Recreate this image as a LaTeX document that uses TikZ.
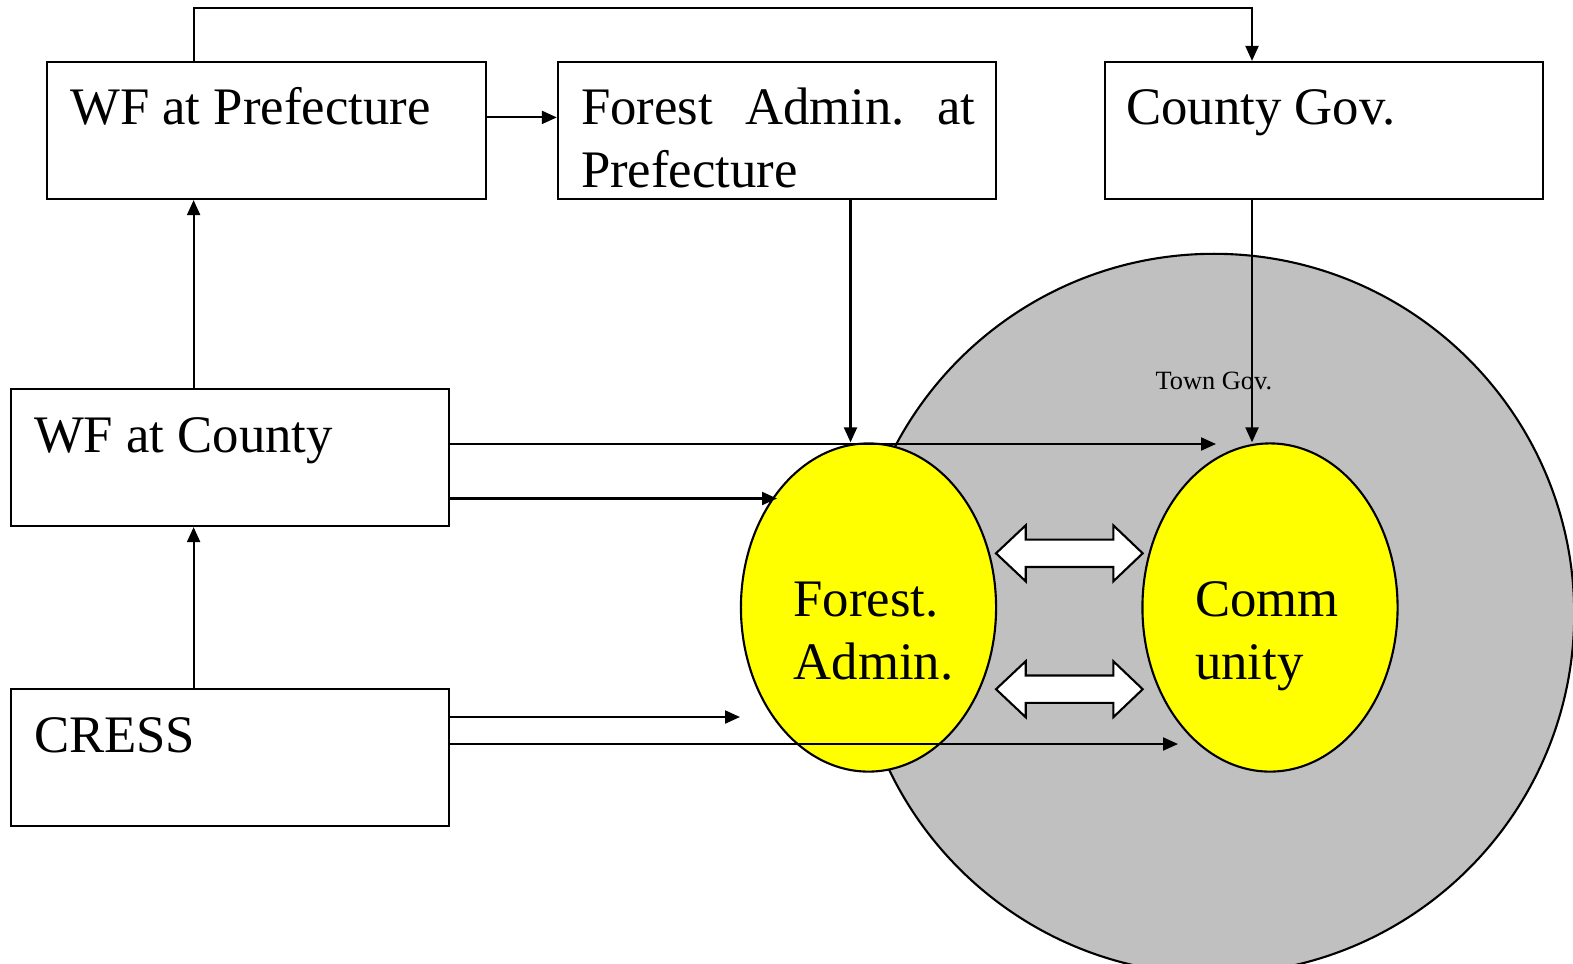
\documentclass[tikz,border=0pt]{standalone}
\usepackage{fontspec}
\setmainfont{Liberation Serif}
\usetikzlibrary{arrows.meta,shapes.geometric}
\definecolor{towngray}{RGB}{192,192,192}
\definecolor{ovalyellow}{RGB}{255,255,0}
\frenchspacing

\begin{document}
\begin{tikzpicture}[x=0.01cm,y=-0.01cm,>={Triangle[length=0.15cm,width=0.13cm]},
                    line width=0.6pt]
  \tikzstyle{box}=[rectangle,draw=black,fill=white,minimum width=4.38cm,minimum height=1.37cm]
  \tikzstyle{oval}=[ellipse,draw=black,fill=ovalyellow,minimum width=2.55cm,minimum height=3.28cm,inner sep=0pt]
  \tikzstyle{big}=[inner sep=0pt,anchor=base west,align=left,font=\fontsize{15}{17.9}\selectfont]

  \clip (0,0) rectangle (1573,963);

  \node[circle,draw=black,fill=towngray,minimum size=7.2cm,inner sep=0pt] (town) at (1214,614) {};
  \node[inner sep=0pt,anchor=base west,font=\fontsize{7.5}{9}\selectfont] (townt) at (1154.5,389.5) {Town Gov.};

  \node[box] (pref)  at (266.5,130.5) {};
  \node[box] (fap)   at (777,130.5)   {};
  \node[box] (cgov)  at (1324,130.5)  {};
  \node[box] (wfc)   at (230,457.5)   {};
  \node[box] (cress) at (230,757.5)   {};

  \node[oval] (fa)  at (868.5,607.5) {};
  \node[oval] (com) at (1270,607.5)  {};

  \node[big] (preft)  at (69.2,124.5) {WF at Prefecture};
  \node[big,text width=3.94cm,align=justify] (fapt) at (580,124.5) {Forest Admin. at Prefecture};
  \node[big] (cgovt)  at (1125,124.5) {County Gov.};
  \node[big] (wfct)   at (33,452)     {WF at County};
  \node[big] (cresst) at (33,752)     {CRESS};
  \node[big] (fat)    at (792.5,679)  {Forest.\\Admin.};
  \node[big] (comt)   at (1194,679)   {Comm\\unity};

  % two-way arrows between forest admin and community
  \foreach \y in {553.3,689.2}
    \filldraw[fill=white] (996,\y) -- ++(29.7,-28) -- ++(0,14.3) -- ++(87.6,0) -- ++(0,-14.3)
      -- ++(29.4,28) -- ++(-29.4,28) -- ++(0,-14.3) -- ++(-87.6,0) -- ++(0,14.3) -- cycle;

  \coordinate (colA) at (193.6,0);
  \coordinate (colB) at (850.5,0);
  \coordinate (colC) at (1252,0);
  \coordinate (roof) at (0,8.4);
  \coordinate (tipA) at (1216,444);
  \coordinate (tipB) at (777,498.5);
  \coordinate (tipC) at (740,717);
  \coordinate (tipD) at (1178,744);

  \draw[->] (colA |- pref.north) -- (colA |- roof) -| (colC |- cgov.north);
  \draw[->] (pref.east |- 0,117.4) -- (fap.west |- 0,117.4);
  \draw[->] (colB |- fap.south) -- (colB |- fa.north);
  \draw[->] (colC |- cgov.south) -- (colC |- com.north);
  \draw[->] (colA |- wfc.north) -- (colA |- pref.south);
  \draw[->] (colA |- cress.north) -- (colA |- wfc.south);
  \draw[->] (wfc.east |- tipA) -- (tipA);
  \draw[->] (wfc.east |- tipB) -- (tipB);
  \draw[->] (cress.east |- tipC) -- (tipC);
  \draw[->] (cress.east |- tipD) -- (tipD);
\end{tikzpicture}
\end{document}
